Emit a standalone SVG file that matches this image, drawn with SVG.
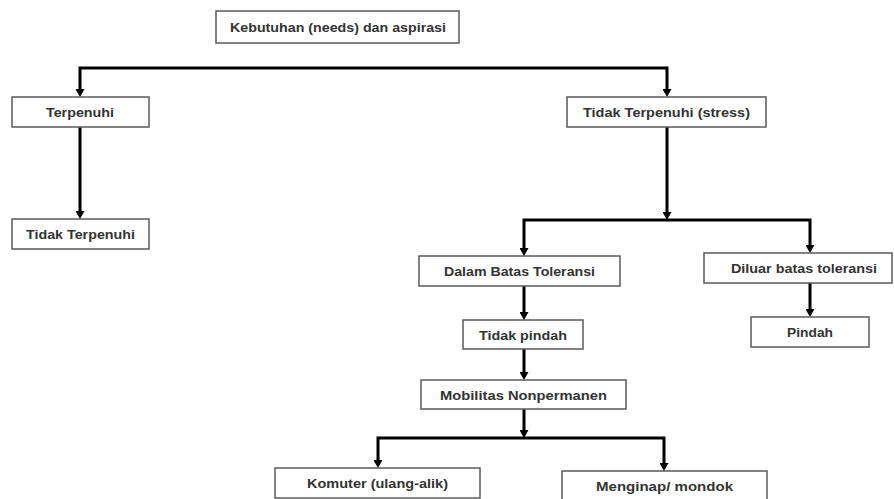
<svg xmlns="http://www.w3.org/2000/svg" width="894" height="499" viewBox="0 0 894 499">
<style>
.box{fill:#fff;stroke:#5a5a5a;stroke-width:1.5}
.lbl{font-family:"Liberation Sans",Arial,sans-serif;font-size:13.5px;font-weight:bold;fill:#333;text-anchor:middle}
.con{fill:none;stroke:#000;stroke-width:3;stroke-linejoin:miter}
</style>
<defs>
<marker id="ah" markerUnits="userSpaceOnUse" markerWidth="9" markerHeight="9" refX="0" refY="4.5" orient="auto-start-reverse">
<path d="M0,0 L8,4.5 L0,9 z" fill="#000"/>
</marker>
</defs>
<rect width="894" height="499" fill="#fff"/>
<g id="connectors">
<path class="con" d="M80,89 V68 H667 V89" marker-start="url(#ah)" marker-end="url(#ah)"/>
<path class="con" d="M80,127 V211" marker-end="url(#ah)"/>
<path class="con" d="M667,127 V212" marker-end="url(#ah)"/>
<path class="con" d="M524,248 V220 H810 V245" marker-start="url(#ah)" marker-end="url(#ah)"/>
<path class="con" d="M524,286 V312" marker-end="url(#ah)"/>
<path class="con" d="M524,349 V372" marker-end="url(#ah)"/>
<path class="con" d="M810,283 V309" marker-end="url(#ah)"/>
<path class="con" d="M524,409 V430" marker-end="url(#ah)"/>
<path class="con" d="M378,460 V438 H664 V463" marker-start="url(#ah)" marker-end="url(#ah)"/>
</g>
<g id="n-kebutuhan"><rect class="box" x="216" y="11" width="243" height="32"/><text class="lbl" x="338" y="32" textLength="216" lengthAdjust="spacingAndGlyphs">Kebutuhan (needs) dan aspirasi</text></g>
<g id="n-terpenuhi"><rect class="box" x="12" y="97" width="137" height="30"/><text class="lbl" x="80" y="117" textLength="68" lengthAdjust="spacingAndGlyphs">Terpenuhi</text></g>
<g id="n-tidak-terpenuhi"><rect class="box" x="12" y="219" width="137" height="30"/><text class="lbl" x="80.5" y="239" textLength="109" lengthAdjust="spacingAndGlyphs">Tidak Terpenuhi</text></g>
<g id="n-stress"><rect class="box" x="567" y="97" width="199" height="30"/><text class="lbl" x="666.5" y="117" textLength="167" lengthAdjust="spacingAndGlyphs">Tidak Terpenuhi (stress)</text></g>
<g id="n-dalam"><rect class="box" x="419" y="256" width="201" height="30"/><text class="lbl" x="519.5" y="276" textLength="151" lengthAdjust="spacingAndGlyphs">Dalam Batas Toleransi</text></g>
<g id="n-diluar"><rect class="box" x="704" y="253" width="188" height="30"/><text class="lbl" x="804" y="273" textLength="146" lengthAdjust="spacingAndGlyphs">Diluar batas toleransi</text></g>
<g id="n-tidak-pindah"><rect class="box" x="463" y="320" width="120" height="29"/><text class="lbl" x="523" y="339.5" textLength="88" lengthAdjust="spacingAndGlyphs">Tidak pindah</text></g>
<g id="n-pindah"><rect class="box" x="751" y="317" width="118" height="30"/><text class="lbl" x="810" y="337" textLength="46" lengthAdjust="spacingAndGlyphs">Pindah</text></g>
<g id="n-mobilitas"><rect class="box" x="421" y="380" width="205" height="29"/><text class="lbl" x="523.5" y="399.5" textLength="167" lengthAdjust="spacingAndGlyphs">Mobilitas Nonpermanen</text></g>
<g id="n-komuter"><rect class="box" x="275" y="468" width="205" height="30"/><text class="lbl" x="377.5" y="488" textLength="141" lengthAdjust="spacingAndGlyphs">Komuter (ulang-alik)</text></g>
<g id="n-menginap"><rect class="box" x="562" y="471" width="205" height="30"/><text class="lbl" x="664.5" y="491" textLength="137" lengthAdjust="spacingAndGlyphs">Menginap/ mondok</text></g>
</svg>
